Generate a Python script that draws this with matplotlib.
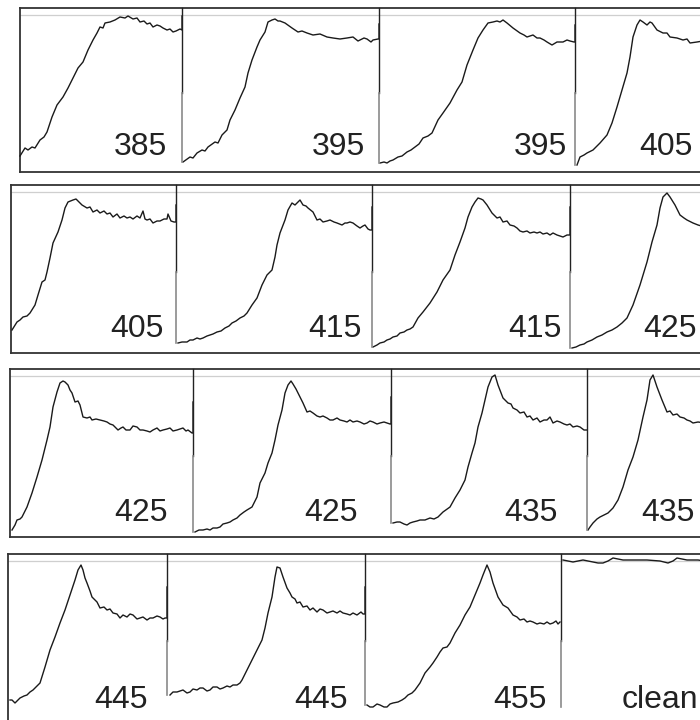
import matplotlib
matplotlib.use("Agg")
import matplotlib.pyplot as plt

plt.rcParams['font.family'] = ['Liberation Sans', 'DejaVu Sans']

# ---- traces: (time, signal) pairs ----
w385 = [(0, 16), (5, 24), (8, 22), (12, 25), (15, 24), (20, 32), (24, 35), (27, 40), (32, 55), (37, 67),
        (43, 75), (48, 84), (53, 94), (58, 104), (63, 110), (68, 122), (73, 132), (77, 139), (80, 145),
        (83, 144), (85, 149), (90, 150), (95, 152), (100, 155), (105, 154), (108, 156), (113, 153),
        (117, 154), (120, 150), (124, 151), (127, 148), (130, 149), (133, 145), (137, 147), (140, 146),
        (143, 144), (147, 142), (150, 143), (153, 140), (156, 141), (160, 143), (162, 142), (162, 156)]
w395a = [(1, 10), (8, 15), (11, 14), (15, 19), (20, 22), (23, 21), (26, 25), (33, 30), (36, 29), (40, 37),
         (45, 42), (48, 52), (53, 62), (58, 74), (63, 85), (66, 99), (70, 112), (75, 125), (78, 132),
         (83, 140), (86, 150), (90, 152), (93, 153), (96, 151), (98, 151), (103, 149), (110, 144),
         (116, 140), (120, 141), (125, 139), (131, 137), (138, 138), (145, 135), (151, 134), (158, 133),
         (165, 134), (171, 135), (176, 131), (178, 132), (182, 134), (185, 133), (189, 130), (191, 132),
         (196, 133), (197, 133), (197, 148)]
w395b = [(1, 9), (5, 10), (8, 9), (11, 11), (14, 12), (19, 15), (23, 16), (28, 20), (32, 22), (36, 25),
         (40, 28), (44, 34), (49, 36), (53, 39), (59, 52), (64, 59), (71, 69), (78, 82), (83, 90), (88, 107),
         (94, 122), (99, 134), (104, 142), (109, 149), (114, 150), (118, 151), (121, 150), (124, 152),
         (128, 149), (134, 144), (141, 139), (145, 137), (148, 135), (154, 137), (158, 134), (161, 134),
         (165, 132), (168, 130), (173, 127), (178, 130), (184, 130), (188, 132), (191, 131), (195, 130),
         (196, 130), (196, 147)]
w405a = [(2, 7), (5, 15), (9, 17), (12, 19), (18, 22), (25, 29), (32, 37), (37, 49), (42, 65), (47, 82),
         (52, 99), (55, 115), (58, 135), (62, 147), (65, 152), (68, 150), (72, 147), (75, 150), (77, 149),
         (82, 142), (88, 139), (92, 139), (95, 135), (102, 134), (108, 132), (112, 133), (115, 129),
         (122, 130), (128, 131), (133, 130)]

w405b = [(1, 23), (6, 31), (9, 33), (12, 36), (16, 37), (19, 40), (24, 48), (27, 58), (31, 71), (34, 73),
         (36, 81), (39, 95), (42, 110), (47, 121), (51, 133), (54, 145), (57, 151), (62, 153), (65, 154),
         (67, 152), (71, 148), (76, 145), (79, 146), (82, 141), (86, 143), (89, 140), (93, 142), (96, 139),
         (99, 140), (102, 136), (106, 139), (109, 135), (113, 137), (116, 135), (119, 136), (122, 134),
         (126, 137), (129, 135), (132, 142), (134, 134), (136, 133), (139, 134), (142, 130), (146, 132),
         (149, 132), (153, 134), (156, 134), (157, 139), (160, 132), (163, 131), (165, 131), (165, 148)]
w415a = [(2, 10), (6, 11), (11, 11), (14, 13), (17, 13), (21, 15), (24, 14), (27, 15), (31, 17), (34, 18),
         (37, 19), (41, 21), (45, 22), (49, 25), (53, 27), (56, 30), (60, 32), (64, 35), (68, 37), (71, 40),
         (76, 48), (81, 55), (86, 68), (91, 78), (96, 83), (99, 96), (101, 108), (104, 120), (109, 133),
         (112, 143), (116, 150), (119, 148), (121, 150), (124, 153), (127, 148), (130, 147), (132, 145),
         (137, 141), (141, 133), (144, 134), (147, 131), (151, 132), (154, 133), (158, 131), (161, 130),
         (166, 128), (169, 130), (171, 130), (174, 131), (177, 130), (181, 127), (184, 125), (187, 127),
         (189, 128), (192, 124), (194, 123), (196, 123), (196, 146)]
w415b = [(1, 6), (5, 8), (8, 10), (12, 11), (15, 13), (18, 14), (21, 16), (25, 17), (28, 20), (32, 21),
         (35, 23), (38, 24), (41, 26), (46, 35), (51, 41), (58, 50), (65, 61), (71, 73), (78, 83), (83, 98),
         (88, 111), (93, 125), (96, 136), (100, 146), (103, 151), (106, 155), (109, 154), (111, 153),
         (115, 148), (120, 140), (125, 135), (128, 136), (131, 131), (135, 132), (138, 128), (142, 127),
         (145, 125), (148, 122), (151, 121), (155, 122), (158, 120), (162, 121), (165, 120), (168, 121),
         (171, 119), (175, 120), (178, 118), (181, 120), (185, 118), (188, 117), (191, 116), (195, 118),
         (198, 118), (198, 146)]
w425a = [(2, 5), (6, 6), (10, 8), (14, 9), (17, 11), (22, 13), (27, 16), (32, 18), (37, 21), (42, 23),
         (47, 26), (52, 30), (57, 35), (63, 48), (70, 68), (77, 91), (82, 111), (87, 128), (90, 145),
         (93, 156), (97, 160), (100, 156), (105, 148), (110, 138), (114, 135), (117, 133), (123, 130),
         (128, 128), (135, 126)]

w425b = [(2, 7), (5, 12), (7, 17), (10, 18), (12, 20), (17, 30), (22, 44), (27, 60), (32, 77), (37, 97),
         (40, 110), (43, 130), (47, 145), (50, 154), (53, 156), (55, 155), (58, 152), (60, 147), (62, 144),
         (65, 135), (68, 136), (70, 132), (73, 120), (77, 119), (80, 120), (82, 117), (86, 118), (90, 117),
         (94, 116), (97, 115), (100, 113), (103, 112), (106, 109), (108, 107), (111, 109), (113, 110),
         (116, 107), (120, 107), (123, 111), (127, 110), (130, 107), (133, 107), (137, 106), (140, 105),
         (143, 107), (147, 109), (150, 106), (153, 107), (157, 108), (160, 109), (163, 106), (167, 107),
         (170, 108), (173, 109), (176, 106), (178, 107), (182, 104), (183, 104), (183, 135)]
w425c = [(2, 5), (6, 7), (10, 7), (14, 8), (17, 7), (20, 9), (24, 9), (27, 10), (30, 13), (34, 14),
         (37, 15), (40, 17), (44, 19), (47, 22), (51, 25), (54, 27), (59, 30), (64, 40), (67, 54), (72, 64),
         (75, 74), (79, 84), (82, 97), (85, 112), (89, 127), (92, 144), (95, 152), (98, 156), (100, 153),
         (103, 148), (105, 144), (108, 138), (110, 134), (114, 125), (117, 126), (120, 124), (124, 121),
         (127, 120), (130, 121), (134, 119), (137, 117), (140, 117), (144, 119), (147, 117), (151, 116),
         (154, 115), (157, 117), (160, 115), (164, 116), (167, 115), (171, 113), (174, 114), (177, 116),
         (180, 115), (184, 113), (187, 114), (191, 115), (194, 114), (197, 113), (198, 113), (198, 140)]
w435a = [(2, 14), (6, 15), (9, 15), (13, 13), (16, 12), (19, 14), (22, 15), (26, 16), (29, 17), (34, 17),
         (39, 19), (43, 18), (47, 20), (52, 25), (59, 30), (64, 39), (69, 47), (74, 57), (77, 70), (81, 84),
         (84, 94), (87, 110), (91, 124), (94, 137), (97, 150), (101, 160), (104, 162), (107, 152),
         (112, 139), (117, 134), (120, 133), (122, 129), (126, 127), (129, 124), (133, 125), (136, 120),
         (139, 121), (142, 117), (146, 119), (149, 115), (153, 117), (156, 117), (159, 120), (162, 114),
         (166, 116), (169, 115), (173, 113), (176, 112), (179, 113), (182, 110), (186, 111), (189, 110),
         (193, 107), (196, 107)]
w435b = [(1, 7), (3, 10), (6, 14), (10, 18), (13, 20), (17, 22), (21, 24), (26, 29), (31, 37), (36, 50),
         (41, 67), (46, 80), (51, 97), (56, 120), (60, 137), (63, 157), (66, 162), (70, 150), (75, 137),
         (80, 125), (83, 126), (86, 122), (90, 123), (93, 120), (97, 119), (100, 117), (103, 116),
         (106, 114), (111, 115), (118, 114)]

w445a = [(2, 22), (4, 22), (7, 19), (10, 22), (12, 24), (16, 26), (19, 27), (22, 30), (25, 32), (29, 36),
         (32, 39), (37, 55), (42, 72), (47, 85), (52, 99), (57, 112), (62, 127), (67, 142), (70, 152),
         (73, 157), (75, 152), (77, 144), (79, 139), (82, 131), (84, 125), (87, 122), (89, 120), (92, 114),
         (96, 115), (99, 112), (102, 113), (105, 109), (109, 108), (112, 104), (115, 107), (119, 105),
         (122, 108), (125, 107), (129, 103), (132, 104), (135, 105), (139, 102), (142, 104), (145, 104),
         (149, 106), (152, 105), (155, 103), (157, 104), (159, 104), (159, 135)]
w445b = [(3, 27), (6, 30), (10, 30), (13, 31), (16, 32), (20, 29), (23, 30), (26, 33), (30, 32), (33, 34),
         (36, 34), (40, 31), (43, 32), (46, 35), (50, 35), (53, 33), (56, 34), (60, 36), (63, 35), (66, 37),
         (70, 37), (73, 39), (75, 42), (80, 52), (85, 62), (90, 72), (95, 82), (98, 94), (101, 109),
         (105, 125), (108, 145), (110, 155), (113, 154), (116, 145), (120, 134), (123, 129), (125, 125),
         (128, 123), (130, 119), (133, 120), (136, 115), (140, 116), (143, 112), (146, 114), (150, 110),
         (153, 113), (156, 112), (160, 109), (163, 110), (166, 111), (170, 109), (173, 111), (176, 109),
         (180, 108), (183, 107), (186, 109), (190, 107), (194, 110), (196, 108), (198, 108), (198, 135)]
w455 = [(2, 17), (5, 15), (8, 15), (12, 18), (15, 17), (19, 15), (22, 15), (25, 18), (28, 19), (33, 20),
        (37, 22), (40, 24), (43, 27), (47, 29), (50, 32), (55, 39), (60, 49), (65, 55), (68, 59), (72, 65),
        (75, 70), (78, 74), (82, 75), (85, 79), (90, 89), (95, 97), (100, 107), (105, 115), (110, 127),
        (115, 139), (118, 147), (122, 157), (125, 150), (128, 139), (133, 125), (138, 117), (143, 114),
        (148, 107), (152, 105), (155, 102), (159, 103), (162, 100), (165, 101), (168, 100), (172, 98),
        (175, 99), (179, 98), (182, 100), (185, 98), (188, 99), (191, 101), (193, 98), (195, 100)]
w_clean = [(2, 162), (7, 161), (12, 160), (17, 161), (22, 162), (27, 161), (32, 160), (37, 159), (42, 159),
           (47, 161), (52, 164), (57, 163), (62, 162), (72, 162), (86, 162), (99, 161), (107, 159),
           (112, 161), (116, 164), (121, 163), (126, 162), (137, 162), (144, 161)]

row_traces = [[w385, w395a, w395b, w405a],
              [w405b, w415a, w415b, w425a],
              [w425b, w425c, w435a, w435b],
              [w445a, w445b, w455, w_clean]]
row_labels = [['385', '395', '395', '405'],
              ['405', '415', '415', '425'],
              ['425', '425', '435', '435'],
              ['445', '445', '455', 'clean']]

# ---- layout (pixels of a 700 x 720 canvas) ----
W, H = 700, 720
row_top = [8, 185, 369, 554]
row_bottom = [172, 353, 537, 722]
row_left = [20, 11, 10, 8]
dividers = [[182, 379, 575], [176, 372, 570], [193, 391, 587], [167, 365, 561]]
label_right = [[167, 365, 567, 693], [164, 362, 562, 697],
               [168, 358, 558, 695], [148, 348, 547, 698]]
label_base = [155, 337, 521, 708]

fig = plt.figure(figsize=(W / 100, H / 100), dpi=100)


def fig_box(x0, y0, x1, y1):
    return [x0 / W, 1 - y1 / H, (x1 - x0) / W, (y1 - y0) / H]


ink = '#1a1a1a'
for r in range(4):
    top, bot, left = row_top[r], row_bottom[r], row_left[r]
    h = bot - top
    # frame of the strip
    frame = fig.add_axes(fig_box(left, top, 780, bot))
    frame.set_xticks([])
    frame.set_yticks([])
    frame.set_facecolor('none')
    frame.spines['right'].set_visible(False)
    for side in ['top', 'bottom', 'left']:
        frame.spines[side].set_color('#333333')
        frame.spines[side].set_linewidth(1.3)
    frame.axhline(1 - 7 / h, color='#cfcfcf', lw=0.9)

    edges = [left] + dividers[r] + [dividers[r][-1] + 200]
    for p in range(4):
        x0, x1 = edges[p], edges[p + 1]
        ax = fig.add_axes(fig_box(x0, top, x1, bot))
        ax.set_xlim(0, x1 - x0)
        ax.set_ylim(0, h)
        ax.axis('off')
        ax.patch.set_visible(False)
        t = [pt[0] for pt in row_traces[r][p]]
        s = [pt[1] for pt in row_traces[r][p]]
        ax.plot(t, s, color=ink, lw=1.0, clip_on=False)
        if p > 0:
            low = s[0] if s[0] < h / 2 else 15
            ax.plot([0, 0], [h, h * 0.48], color='#222222', lw=1.0, clip_on=False)
            ax.plot([0, 0], [h * 0.48, low], color='#8a8a8a', lw=1.2, clip_on=False)
        fig.text(label_right[r][p] / W, 1 - label_base[r] / H, row_labels[r][p],
                 ha='right', va='baseline', fontsize=23, color='#222222')

fig.savefig('out.png', dpi=100)
